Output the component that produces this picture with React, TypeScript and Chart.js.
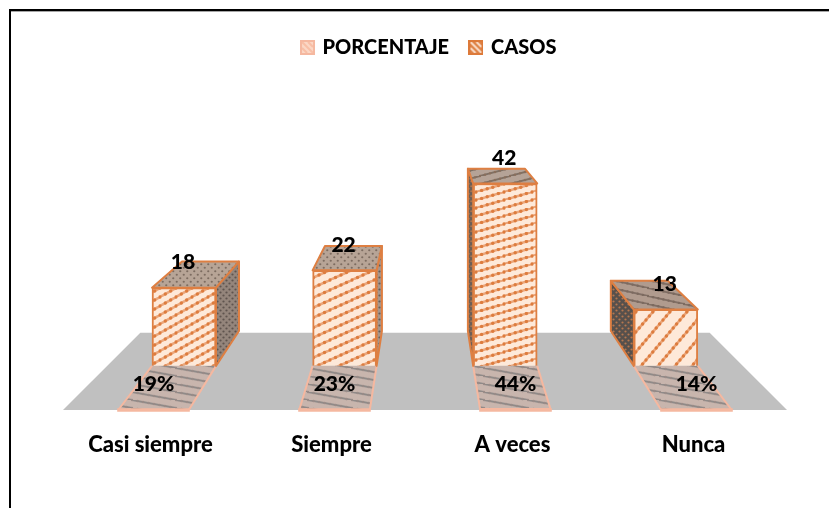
import React, { useEffect, useRef } from "react";
import { Chart, registerables } from "chart.js";

Chart.register(...registerables);

const categories = ["Casi siempre", "Siempre", "A veces", "Nunca"];
const casos = [18, 22, 42, 13];
const porcentaje = [0.19, 0.23, 0.44, 0.14];
const seriesNames = ["PORCENTAJE", "CASOS"];

const FONT = "Lato, 'Open Sans', sans-serif";
const ORANGE = "#de7f42";
const SALMON = "#f5b8a0";
const PX_PER_UNIT = 4.33;
const DEPTH = 0.11;
const VANISH = { x: 425, y: 49 };

// visual hatch settings, one per bar [horizontal period, vertical period]
const frontHatch = [[16, 9], [22, 10], [28, 8], [17, 20]];

function tile(w: number, h: number) {
  const c = document.createElement("canvas");
  c.width = w;
  c.height = h;
  return { c, g: c.getContext("2d") as CanvasRenderingContext2D };
}

function stripes(tx: number, ty: number, bg: string, line: string, dot: string, flip = false, lw = 2.6) {
  const { c, g } = tile(tx, ty);
  g.fillStyle = bg;
  g.fillRect(0, 0, tx, ty);
  if (flip) {
    g.translate(0, ty);
    g.scale(1, -1);
  }
  g.strokeStyle = line;
  g.lineWidth = lw;
  for (const dx of [-tx, 0, tx]) {
    g.beginPath();
    g.moveTo(dx, ty);
    g.lineTo(dx + tx, 0);
    g.stroke();
  }
  const n = Math.max(1, Math.round(Math.hypot(tx, ty) / 5.5));
  g.fillStyle = dot;
  for (let i = 0; i < n; i++) {
    const t = i / n;
    for (const ox of [0, tx, -tx]) {
      for (const oy of [0, ty, -ty]) {
        g.beginPath();
        g.arc(t * tx + ox, ty - t * ty + oy, lw * 0.65, 0, Math.PI * 2);
        g.fill();
      }
    }
  }
  return g.createPattern(c, "repeat") as CanvasPattern;
}

function dots(step: number, bg: string, dot: string) {
  const { c, g } = tile(step, step);
  g.fillStyle = bg;
  g.fillRect(0, 0, step, step);
  g.fillStyle = dot;
  for (const [x, y] of [[step * 0.25, step * 0.25], [step * 0.75, step * 0.75]]) {
    g.beginPath();
    g.arc(x, y, 1.1, 0, Math.PI * 2);
    g.fill();
  }
  return g.createPattern(c, "repeat") as CanvasPattern;
}

function legendSwatch(bg: string, line: string, edge: string) {
  const { c, g } = tile(15, 15);
  g.fillStyle = bg;
  g.fillRect(0, 0, 15, 15);
  g.strokeStyle = line;
  g.lineWidth = 2;
  g.beginPath();
  g.moveTo(2, 2);
  g.lineTo(13, 13);
  g.moveTo(2, 8);
  g.lineTo(7, 13);
  g.moveTo(8, 2);
  g.lineTo(13, 7);
  g.stroke();
  g.strokeStyle = edge;
  g.lineWidth = 2;
  g.strokeRect(1, 1, 13, 13);
  return c;
}

const toward = (x: number, y: number, t = DEPTH) => ({
  x: x + (VANISH.x - x) * t,
  y: y + (VANISH.y - y) * t,
});

function poly(ctx: CanvasRenderingContext2D, pts: { x: number; y: number }[]) {
  ctx.beginPath();
  pts.forEach((p, i) => (i ? ctx.lineTo(p.x, p.y) : ctx.moveTo(p.x, p.y)));
  ctx.closePath();
}

export default function App() {
  const ref = useRef<HTMLCanvasElement>(null);

  useEffect(() => {
    document.body.style.margin = "0";
    const canvas = ref.current as HTMLCanvasElement;

    const fronts = frontHatch.map(([tx, ty]) => stripes(tx, ty, "#fee9d9", "#eba77c", "#dd7c3e"));
    const tileFill = stripes(44, 8, "#c8b5ad", "#8f8a88", "#9a8c88", true, 1.8);
    const topFills = [
      dots(7, "#b7a496", "#7d6c61"),
      dots(7, "#b7a496", "#7d6c61"),
      stripes(30, 8, "#b5a397", "#7f7064", "#8a6f5c", false, 1.8),
      stripes(36, 8, "#b09b8e", "#806f65", "#7c6a5f", true, 1.8),
    ];
    const sideFills = [
      dots(6, "#94857b", "#5f544e"),
      dots(6, "#a8968b", "#6a5d55"),
      dots(5, "#6b5f58", "#a8734f"),
      dots(6, "#57504c", "#b5774f"),
    ];
    const swatches = [
      legendSwatch("#fbd8c6", "#f8bfa6", "#f5b8a0"),
      legendSwatch("#de8347", "#f9dcc8", "#dd7a3a"),
    ];

    const decorate = {
      id: "decorate",
      afterLayout(chart: any) {
        chart.legend.left += 9;
      },
      beforeDraw(chart: any) {
        const { ctx, width, height } = chart;
        ctx.save();
        ctx.fillStyle = "#ffffff";
        ctx.fillRect(0, 0, width, height);
        ctx.fillStyle = "#a6a6a6";
        ctx.fillRect(11, 11, width - 11, 1);
        ctx.fillStyle = "#000000";
        ctx.fillRect(9, 9, width - 9, 2);
        ctx.fillRect(9, 9, 2, height - 9);
        ctx.restore();
      },
      beforeDatasetsDraw(chart: any) {
        const { ctx, chartArea } = chart;
        const floorY = chartArea.bottom;
        const pctBars = chart.getDatasetMeta(0).data;
        const caseBars = chart.getDatasetMeta(1).data;
        ctx.save();

        // floor
        const backY = caseBars[0].base - 33;
        const ratio = (floorY - backY) / (floorY - VANISH.y);
        const a = { x: chartArea.left, y: floorY };
        const b = { x: chartArea.right, y: floorY };
        ctx.fillStyle = "#c0c0c0";
        poly(ctx, [a, b, toward(b.x, b.y, ratio), toward(a.x, a.y, ratio)]);
        ctx.fill();

        caseBars.forEach((bar: any, i: number) => {
          const half = bar.width / 2;
          const l = bar.x - half;
          const r = bar.x + half;
          const edge = bar.x < VANISH.x ? r : l;

          // flat percentage tile in front of the box
          const p = pctBars[i];
          const ph = p.width / 2;
          const tilePts = [
            { x: l, y: bar.base },
            { x: r, y: bar.base },
            { x: p.x + ph, y: p.base },
            { x: p.x - ph, y: p.base },
          ];
          poly(ctx, tilePts);
          ctx.fillStyle = tileFill;
          ctx.fill();
          ctx.strokeStyle = SALMON;
          ctx.lineWidth = 2;
          ctx.beginPath();
          ctx.moveTo(l, bar.base);
          ctx.lineTo(p.x - ph, p.base);
          ctx.moveTo(r, bar.base);
          ctx.lineTo(p.x + ph, p.base);
          ctx.stroke();
          ctx.lineWidth = 3.5;
          ctx.beginPath();
          ctx.moveTo(p.x - ph - 1, p.base);
          ctx.lineTo(p.x + ph + 1, p.base);
          ctx.stroke();

          // side and top of the box
          ctx.strokeStyle = ORANGE;
          ctx.lineWidth = 2;
          ctx.lineJoin = "round";
          poly(ctx, [
            { x: edge, y: bar.y },
            toward(edge, bar.y),
            toward(edge, bar.base),
            { x: edge, y: bar.base },
          ]);
          ctx.fillStyle = sideFills[i];
          ctx.fill();
          ctx.stroke();
          poly(ctx, [{ x: l, y: bar.y }, { x: r, y: bar.y }, toward(r, bar.y), toward(l, bar.y)]);
          ctx.fillStyle = topFills[i];
          ctx.fill();
          ctx.stroke();
        });
        ctx.restore();
      },
      afterDatasetsDraw(chart: any) {
        const { ctx } = chart;
        ctx.save();
        ctx.fillStyle = "#000000";
        ctx.font = `900 21px ${FONT}`;
        ctx.textAlign = "center";
        ctx.textBaseline = "middle";
        chart.getDatasetMeta(1).data.forEach((bar: any, i: number) => {
          ctx.fillText(String(casos[i]), bar.x - 1, bar.y - 25);
        });
        chart.getDatasetMeta(0).data.forEach((bar: any, i: number) => {
          ctx.fillText(`${Math.round(porcentaje[i] * 100)}%`, bar.x, bar.base - 26);
        });
        ctx.restore();
      },
    };

    const areaHeight = 341.5;
    const caseSpacing = 160.6;
    const areaWidth = 724;
    const x2Min = -(184 - 63) / caseSpacing;

    const chart = new Chart(canvas, {
      type: "bar",
      data: {
        labels: categories,
        datasets: [
          {
            label: seriesNames[0],
            data: porcentaje,
            xAxisID: "x",
            yAxisID: "yPct",
            backgroundColor: SALMON,
            borderWidth: 0,
            categoryPercentage: 1,
            barPercentage: 0.39,
            grouped: false,
          },
          {
            label: seriesNames[1],
            data: casos.map((v, i) => ({ x: i, y: v })),
            xAxisID: "x2",
            yAxisID: "y",
            backgroundColor: fronts,
            borderColor: ORANGE,
            borderWidth: 2,
            barThickness: 64,
            grouped: false,
          },
        ],
      } as any,
      plugins: [decorate],
      options: {
        animation: false,
        responsive: false,
        layout: { padding: { left: 63, right: 42, top: 15.5, bottom: 0 } },
        plugins: {
          tooltip: { enabled: false },
          legend: {
            position: "top",
            labels: {
              usePointStyle: true,
              pointStyleWidth: 10,
              boxHeight: 15,
              padding: 22,
              color: "#000000",
              font: { family: FONT, size: 20, weight: 900 },
              generateLabels: () =>
                seriesNames.map((text, i) => ({
                  text,
                  pointStyle: swatches[i],
                  datasetIndex: i,
                  hidden: false,
                  lineWidth: 0,
                })),
            },
          },
        },
        scales: {
          x: {
            type: "category",
            grid: { display: false },
            border: { display: false },
            afterFit: (axis: any) => {
              axis.height = 98;
            },
            ticks: {
              color: "#000000",
              padding: 14,
              labelOffset: -3,
              maxRotation: 0,
              autoSkip: false,
              font: { family: FONT, size: 22, weight: 900 },
            },
          },
          x2: {
            type: "linear",
            display: false,
            offset: false,
            min: x2Min,
            max: x2Min + areaWidth / caseSpacing,
          },
          y: {
            display: false,
            min: -44 / PX_PER_UNIT,
            max: (areaHeight - 44) / PX_PER_UNIT,
          },
          yPct: {
            display: false,
            min: 0,
            max: areaHeight / PX_PER_UNIT,
          },
        },
      } as any,
    });
    return () => chart.destroy();
  }, []);

  return (
    <canvas
      ref={ref}
      width={829}
      height={508}
      style={{ display: "block", width: 829, height: 508 }}
    />
  );
}
